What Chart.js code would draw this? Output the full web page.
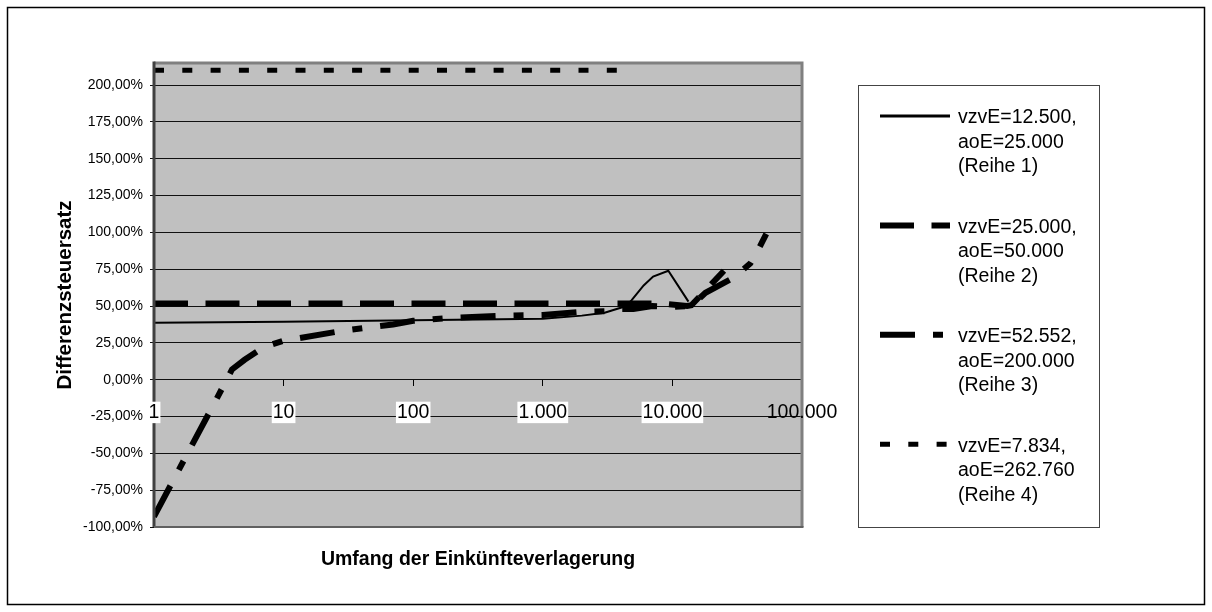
<!DOCTYPE html>
<html lang="de">
<head>
<meta charset="utf-8">
<title>Differenzsteuersatz</title>
<script src="https://cdn.jsdelivr.net/npm/chart.js@4.4.1/dist/chart.umd.min.js"></script>
<style>
  html, body { margin: 0; padding: 0; background: #fff; }
  canvas { display: block; }
</style>
</head>
<body>
<canvas id="chart" width="1212" height="612"></canvas>
<script>
// Werte (x = Umfang, y = Differenzsteuersatz in %)
const reihe1X = [1, 10, 100, 1000, 2000, 3000, 4400, 4850, 6000, 7100, 9300, 13300];
const reihe1Y = [38.6, 39.3, 40.3, 41.3, 43.5, 45.5, 50, 54, 64, 70, 74, 53];

const reihe2X = [1, 8000, 13000, 14000, 25000];
const reihe2Y = [51.8, 51.8, 50, 50.5, 74];

const reihe3X = [1, 2, 3, 4, 5, 7, 10, 30, 50, 70, 100, 200, 500, 1000, 2000, 3000, 4000, 5000, 7000, 10000, 14000, 18000, 30000, 40000, 44000, 53000];
const reihe3Y = [-93, -43, -14, 7, 13.5, 22, 26.5, 33.5, 36, 37.5, 40, 42, 43.5, 44, 46, 46.5, 48, 48, 50, 49.5, 50, 59, 69.5, 79, 85, 99];

const reihe4X = [1, 5000];
const reihe4Y = [210, 210];

const xTicks = [1, 10, 100, 1000, 10000, 100000];

const legendTexts = [
    ["vzvE=12.500,", "aoE=25.000", "(Reihe 1)"],
    ["vzvE=25.000,", "aoE=50.000", "(Reihe 2)"],
    ["vzvE=52.552,", "aoE=200.000", "(Reihe 3)"],
    ["vzvE=7.834,", "aoE=262.760", "(Reihe 4)"]
];

const xTitle = "Umfang der Einkünfteverlagerung";
const yTitle = "Differenzsteuersatz";

Chart.defaults.font.family = "'Liberation Sans', Arial, sans-serif";
Chart.defaults.color = "#000";

function toPoints(xs, ys) {
    return xs.map((x, i) => ({ x: x, y: ys[i] }));
}

// Tausenderpunkt wie in der Vorlage
function formatThousands(v) {
    return String(v).replace(/\B(?=(\d{3})+(?!\d))/g, ".");
}

const lineStyles = [
    { width: 2, dash: [] },
    { width: 6, dash: [34, 17.5] },
    { width: 6, dash: [35, 18, 10, 18] },
    { width: 5, dash: [10, 18.3] }
];

const series = [
    toPoints(reihe1X, reihe1Y),
    toPoints(reihe2X, reihe2Y),
    toPoints(reihe3X, reihe3Y),
    toPoints(reihe4X, reihe4Y)
];

const datasets = series.map((data, i) => ({
    label: legendTexts[i].join(" "),
    data: data,
    borderColor: "#000",
    backgroundColor: "#000",
    borderWidth: lineStyles[i].width,
    borderDash: lineStyles[i].dash,
    borderCapStyle: "butt",
    pointRadius: 0,
    tension: 0,
    fill: false
}));

// Hintergrund, Rahmen, Legende und x-Titel
const framePlugin = {
    id: "frame",
    beforeDraw(chart) {
        const { ctx, chartArea: a } = chart;
        ctx.save();
        ctx.fillStyle = "#fff";
        ctx.fillRect(0, 0, chart.width, chart.height);
        ctx.strokeStyle = "#000";
        ctx.lineWidth = 1.5;
        ctx.strokeRect(7.5, 7.5, 1197, 597);
        ctx.fillStyle = "#c0c0c0";
        ctx.fillRect(a.left, a.top, a.right - a.left, a.bottom - a.top);
        ctx.restore();
    },
    afterDatasetsDraw(chart) {
        const { ctx, chartArea: a } = chart;
        ctx.save();
        ctx.lineWidth = 3;
        ctx.strokeStyle = "#808080";
        ctx.beginPath();
        ctx.moveTo(a.left, a.top);
        ctx.lineTo(a.right, a.top);
        ctx.lineTo(a.right, a.bottom);
        ctx.stroke();
        ctx.strokeStyle = "#404040";
        ctx.beginPath();
        ctx.moveTo(a.left, a.top - 1.5);
        ctx.lineTo(a.left, a.bottom);
        ctx.stroke();
        ctx.lineWidth = 2;
        ctx.strokeStyle = "#606060";
        ctx.beginPath();
        ctx.moveTo(a.left, a.bottom);
        ctx.lineTo(a.right + 1.5, a.bottom);
        ctx.stroke();
        ctx.restore();
    },
    afterDraw(chart) {
        const { ctx, chartArea: a } = chart;
        ctx.save();
        // Legende
        ctx.fillStyle = "#fff";
        ctx.fillRect(858, 85, 241, 442);
        ctx.strokeStyle = "#444";
        ctx.lineWidth = 1;
        ctx.strokeRect(858.5, 85.5, 241, 442);
        ctx.font = "19.5px 'Liberation Sans', Arial, sans-serif";
        ctx.textBaseline = "middle";
        ctx.textAlign = "left";
        legendTexts.forEach((lines, i) => {
            const y = 116 + i * 109.4;
            const st = lineStyles[i];
            ctx.strokeStyle = "#000";
            ctx.lineWidth = i === 0 ? 3 : st.width;
            ctx.setLineDash(st.dash);
            ctx.beginPath();
            ctx.moveTo(880, y);
            ctx.lineTo(950, y);
            ctx.stroke();
            ctx.setLineDash([]);
            ctx.fillStyle = "#000";
            lines.forEach((t, j) => ctx.fillText(t, 958, y + 2 + j * 24.5));
        });
        // x-Achsentitel
        ctx.font = "bold 19.5px 'Liberation Sans', Arial, sans-serif";
        ctx.textAlign = "center";
        ctx.fillText(xTitle, (a.left + a.right) / 2, 560);
        ctx.restore();
    }
};

const ctx = document.getElementById("chart").getContext("2d");

new Chart(ctx, {
    type: "line",
    data: { datasets: datasets },
    options: {
        responsive: false,
        animation: false,
        layout: { padding: { left: 53, top: 63, right: 410, bottom: 85 } },
        plugins: {
            legend: { display: false },
            tooltip: { enabled: false }
        },
        scales: {
            x: {
                type: "logarithmic",
                min: 1,
                max: 100000,
                position: { y: 0 },
                afterBuildTicks: (scale) => {
                    scale.ticks = xTicks.map(v => ({ value: v }));
                },
                grid: { drawOnChartArea: false, drawTicks: true, tickLength: 6, color: "#000" },
                border: { display: false },
                ticks: {
                    z: 1,
                    autoSkip: false,
                    maxRotation: 0,
                    padding: 16,
                    font: { size: 19.5, lineHeight: 1.1 },
                    color: "#000",
                    showLabelBackdrop: (c) => c.index < 5,
                    backdropColor: "#fff",
                    backdropPadding: { x: 1, y: 0 },
                    callback: (v) => formatThousands(v)
                }
            },
            y: {
                type: "linear",
                min: -100,
                max: 215,
                afterFit: (scale) => { scale.width = 101; },
                afterBuildTicks: (scale) => {
                    scale.ticks = scale.ticks.filter(t => t.value % 25 === 0);
                },
                grid: { color: "#111", lineWidth: 1, drawTicks: true, tickLength: 4 },
                border: { display: false },
                ticks: {
                    stepSize: 25,
                    padding: 7,
                    font: { size: 14 },
                    color: "#000",
                    callback: (v) => v.toFixed(2).replace(".", ",") + "%"
                },
                title: {
                    display: true,
                    text: yTitle,
                    font: { size: 20.5, weight: "bold" },
                    color: "#000",
                    padding: { top: 0, bottom: 0 }
                }
            }
        }
    },
    plugins: [framePlugin]
});
</script>
</body>
</html>
